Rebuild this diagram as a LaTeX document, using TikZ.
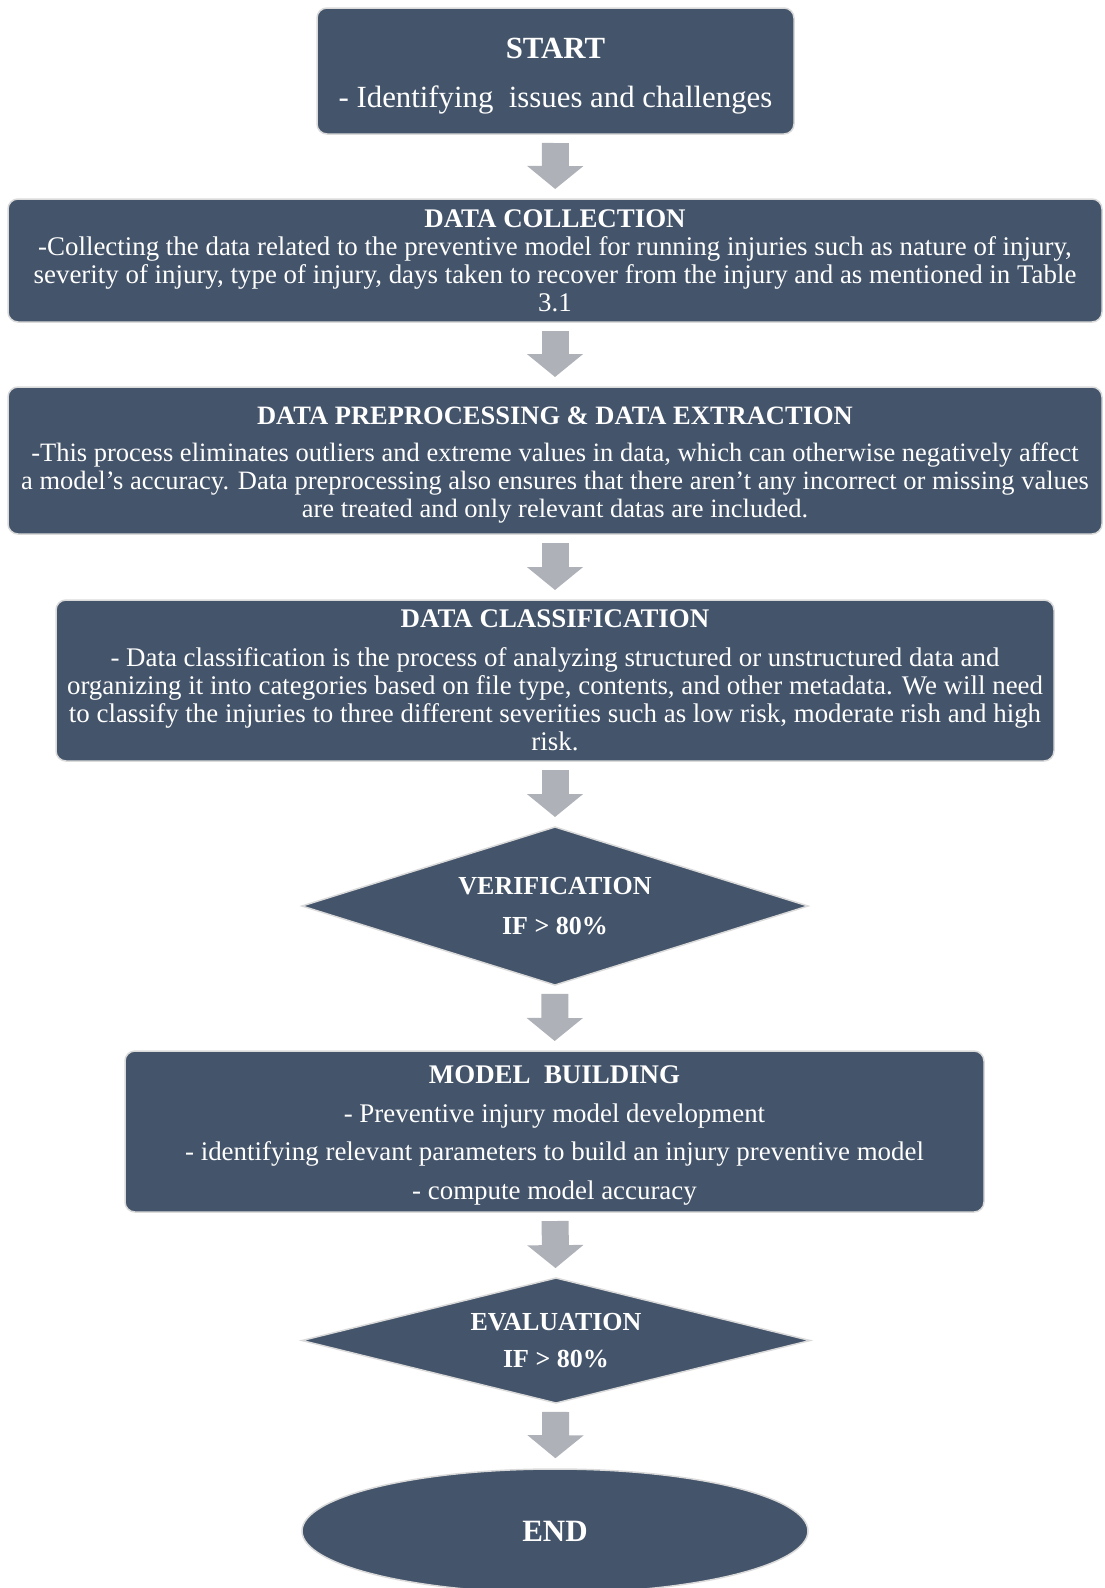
\documentclass[tikz,border=0pt]{standalone}
\usepackage{fontspec}
\setmainfont{Liberation Serif}
\usetikzlibrary{arrows.meta,shapes.geometric}
\definecolor{StageSlate}{HTML}{44546A}
\definecolor{StageEdge}{HTML}{DADADA}
\definecolor{ArrowGrey}{HTML}{AEB1B8}
\newcommand{\lift}[1]{\rule{0pt}{#1}}
\tikzset{
  stage/.style={draw=StageEdge,line width=1.5pt,fill=StageSlate,rounded corners=10pt,
    text=white,align=center,inner sep=0pt,outer sep=0pt,font=\fontsize{26.9}{28}\selectfont},
  check/.style={diamond,aspect=3.2,draw=StageEdge,line width=1.5pt,fill=StageSlate,
    text=white,align=center,inner sep=0pt,outer sep=0pt,font=\fontsize{26}{40}\selectfont\bfseries},
  flowarrow/.style={ArrowGrey,line width=27pt,-{Triangle[width=55pt,length=23pt]},
    shorten <=9pt,shorten >=10pt}
}
\begin{document}
\begin{tikzpicture}[x=1pt,y=-1pt]
  \useasboundingbox (0,0) rectangle (1104,1588);
  \node[stage,minimum width=477pt,minimum height=126pt,font=\fontsize{30.8}{30}\selectfont]
    (start) at (555.5,71) {\lift{30pt}\textbf{START}\\[19pt]- Identifying\ \ issues and challenges};
  \node[stage,minimum width=1094pt,minimum height=123pt] (collect) at (555,260.5)
    {\textbf{DATA COLLECTION}\\
     -Collecting the data related to the preventive model for running injuries such as nature of injury,\\
     severity of injury, type of injury, days taken to recover from the injury and as mentioned in Table\\
     3.1};
  \node[stage,minimum width=1094pt,minimum height=147pt,font=\fontsize{26.5}{27.6}\selectfont]
    (prep) at (555,460.5)
    {\lift{26pt}\textbf{DATA PREPROCESSING \& DATA EXTRACTION}\\[10pt]
     -This process eliminates outliers and extreme values in data, which can otherwise negatively affect\\
     a model's accuracy. Data preprocessing also ensures that there aren't any incorrect or missing values\\
     are treated and only relevant datas are included.};
  \node[stage,minimum width=998pt,minimum height=161pt] (classify) at (555,680.5)
    {\textbf{DATA CLASSIFICATION}\\[11pt]
     - Data classification is the process of analyzing structured or unstructured data and\\
     organizing it into categories based on file type, contents, and other metadata. We will need\\
     to classify the injuries to three different severities such as low risk, moderate rish and high\\
     risk.};
  \node[check,minimum width=506pt,minimum height=158pt] (verify) at (555,906)
    {VERIFICATION\\IF > 80\%};
  \node[stage,minimum width=859pt,minimum height=161pt,font=\fontsize{26.9}{38.5}\selectfont]
    (model) at (554.5,1131.5)
    {\lift{26pt}\textbf{MODEL\ \ BUILDING}\\
     - Preventive injury model development\\
     - identifying relevant parameters to build an injury preventive model\\
     - compute model accuracy};
  \node[check,minimum width=508pt,minimum height=125pt,font=\fontsize{26}{37}\selectfont\bfseries]
    (evaluate) at (556,1340.5) {EVALUATION\\IF > 80\%};
  \node[ellipse,draw=StageEdge,line width=1.5pt,fill=StageSlate,text=white,inner sep=0pt,
    minimum width=506pt,minimum height=124pt,font=\fontsize{31}{31}\selectfont\bfseries]
    (finish) at (555,1531) {END};
  \draw[flowarrow] (start) -- (collect);
  \draw[flowarrow] (collect) -- (prep);
  \draw[flowarrow] (prep) -- (classify);
  \draw[flowarrow] (classify) -- (verify);
  \draw[flowarrow] (verify) -- (model);
  \draw[flowarrow] (model) -- (evaluate);
  \draw[flowarrow] (evaluate) -- (finish);
\end{tikzpicture}
\end{document}
